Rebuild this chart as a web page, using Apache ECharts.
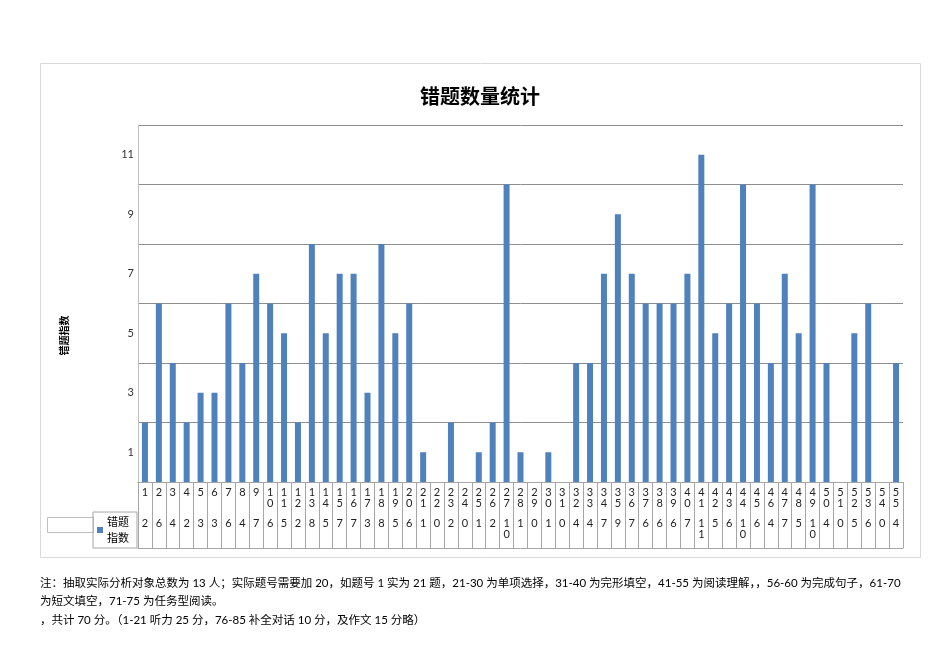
<!DOCTYPE html>
<html>
<head>
<meta charset="utf-8">
<script src="https://cdn.jsdelivr.net/npm/echarts@6/dist/echarts.min.js"></script>
<style>
  html, body { margin: 0; padding: 0; background: #fff; }
  #chart { width: 950px; height: 672px; }
</style>
</head>
<body>
<div id="chart"></div>
<script>
// 题号 1-55
var categories = [];
for (var k = 1; k <= 55; k++) categories.push(String(k));
// 错题指数
var errorCounts = [2, 6, 4, 2, 3, 3, 6, 4, 7, 6, 5, 2, 8, 5, 7, 7, 3, 8, 5, 6,
                   1, 0, 2, 0, 1, 2, 10, 1, 0, 1, 0, 4, 4, 7, 9, 7, 6, 6, 6, 7,
                   11, 5, 6, 10, 6, 4, 7, 5, 10, 4, 0, 5, 6, 0, 4];
var seriesName = '错题指数';
var noteText = '注：抽取实际分析对象总数为 13 人；实际题号需要加 20，如题号 1 实为 21 题，21-30 为单项选择，31-40 为完形填空，41-55 为阅读理解，，56-60 为完成句子，61-70\n' +
               '为短文填空，71-75 为任务型阅读。\n' +
               '，共计 70 分。（1-21 听力 25 分，76-85 补全对话 10 分，及作文 15 分略）';

var fontCn = 'Lato, "Noto Sans CJK SC", sans-serif';
var tableLine = '#a6a6a6';

function stack(s) {
  return String(s).split('').join('\n');
}

var chart = echarts.init(document.getElementById('chart'));
var option = {
  animation: false,
  textStyle: { fontFamily: fontCn },
  title: [
    {
      text: '错题数量统计',
      left: 420, top: 86, padding: 0,
      textStyle: { fontSize: 20, fontWeight: 'bold', color: '#000', fontFamily: '"Noto Sans CJK SC", sans-serif' }
    },
    {
      text: noteText,
      left: 40, top: 574, padding: 0,
      textStyle: { fontSize: 11.5, fontWeight: 'normal', color: '#000', lineHeight: 18.5, fontFamily: fontCn }
    }
  ],
  legend: {
    left: 93, top: 512,
    padding: [2, 8, 2, 4],
    borderWidth: 1,
    borderColor: tableLine,
    borderRadius: 0,
    icon: 'rect',
    itemWidth: 6, itemHeight: 6,
    data: [seriesName],
    formatter: function () { return '错题\n指数'; },
    textStyle: { fontSize: 11, lineHeight: 16, color: '#000', padding: [0, 0, 0, -1] }
  },
  grid: { left: 138, right: 47, top: 125, bottom: 190, containLabel: false },
  xAxis: [
    {
      type: 'category',
      data: categories,
      position: 'bottom',
      axisLine: { show: true, lineStyle: { color: tableLine } },
      axisTick: { show: true, interval: 0, length: 66, lineStyle: { color: tableLine } },
      axisLabel: {
        interval: 0, margin: 5, fontSize: 11, lineHeight: 11, color: '#222',
        formatter: function (v) { return stack(v); }
      }
    },
    {
      type: 'category',
      data: categories,
      position: 'bottom',
      offset: 30,
      axisLine: { show: true, lineStyle: { color: tableLine } },
      axisTick: { show: false },
      axisLabel: {
        interval: 0, margin: 6, fontSize: 11, lineHeight: 11, color: '#222',
        formatter: function (v, i) { return stack(errorCounts[i]); }
      }
    },
    {
      type: 'category',
      data: categories,
      position: 'bottom',
      offset: 66,
      axisLine: { show: true, lineStyle: { color: tableLine } },
      axisTick: { show: false },
      axisLabel: { show: false }
    }
  ],
  yAxis: [
    {
      type: 'value',
      min: 0, max: 12, interval: 2,
      axisLine: { show: true, lineStyle: { color: '#bfbfbf' } },
      axisTick: { show: false },
      axisLabel: { show: false },
      splitLine: { show: true, lineStyle: { color: '#8e8e8e' } }
    },
    {
      type: 'value',
      min: 0, max: 12, interval: 1,
      position: 'left',
      name: '错题指数',
      nameLocation: 'middle',
      nameGap: 68,
      nameRotate: 90,
      nameTextStyle: { fontSize: 10, fontWeight: 'bold', color: '#000', padding: [0, 64, 0, 0] },
      axisLine: { show: false },
      axisTick: { show: false },
      splitLine: { show: false },
      axisLabel: {
        margin: 4, fontSize: 11, color: '#333',
        formatter: function (v) { return v % 2 === 1 ? String(v) : ''; }
      }
    }
  ],
  series: [
    {
      name: seriesName,
      type: 'bar',
      xAxisIndex: 0,
      yAxisIndex: 0,
      data: errorCounts,
      barWidth: 6,
      itemStyle: { color: '#4F81BD' }
    }
  ],
  graphic: [
    {
      type: 'rect', silent: true, z: -1,
      shape: { x: 40.5, y: 63.5, width: 880, height: 494 },
      style: { fill: 'none', stroke: '#d9d9d9', lineWidth: 1 }
    },
    {
      type: 'rect', silent: true,
      shape: { x: 47.5, y: 517.5, width: 46, height: 15 },
      style: { fill: '#fff', stroke: '#bfbfbf', lineWidth: 1 }
    }
  ]
};
chart.setOption(option);
</script>
</body>
</html>
